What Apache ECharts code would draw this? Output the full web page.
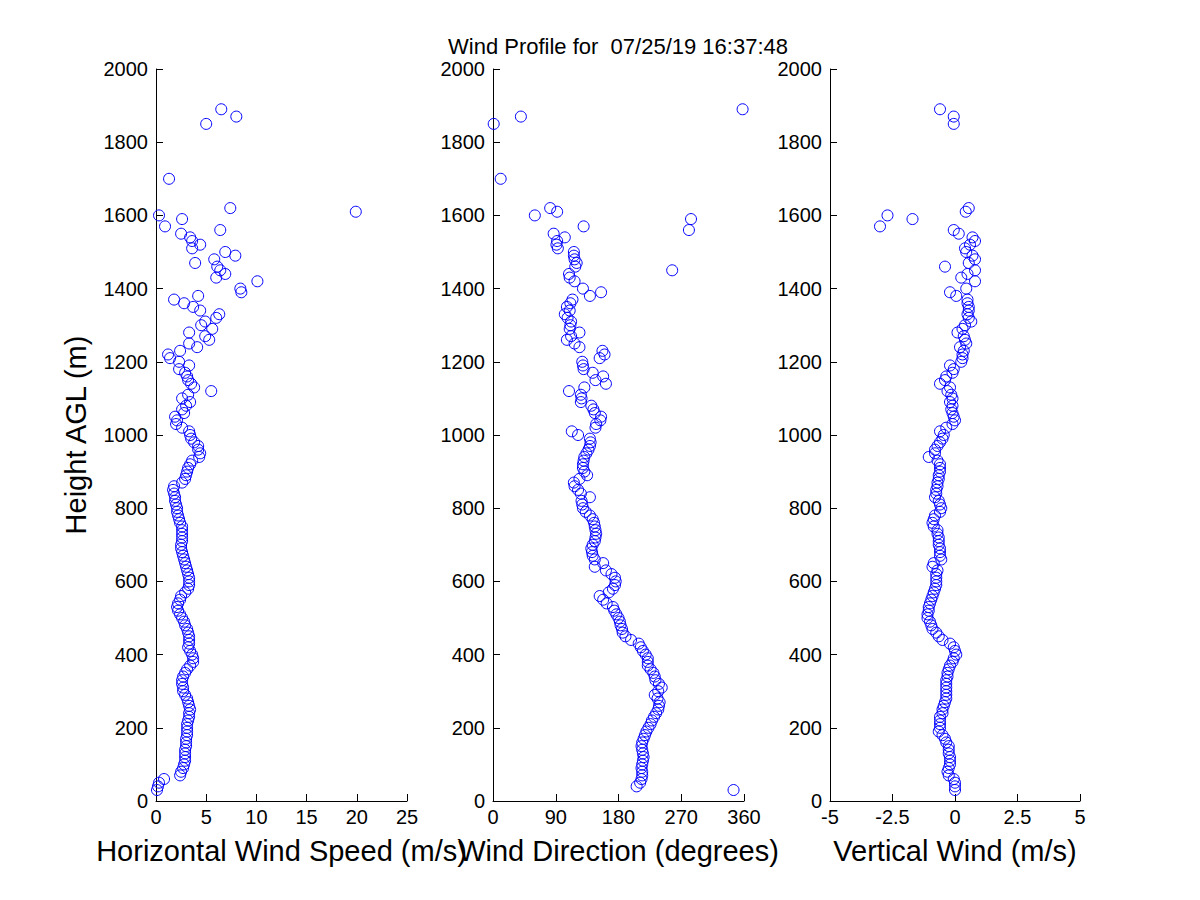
<!DOCTYPE html>
<html>
<head>
<meta charset="utf-8">
<script src="https://cdn.jsdelivr.net/npm/echarts@6/dist/echarts.min.js"></script>
<style>
html,body{margin:0;padding:0;background:#fff;}
#chart{width:1200px;height:900px;}
</style>
</head>
<body>
<div id="chart"></div>
<script>
const titleText = 'Wind Profile for  07/25/19 16:37:48';

const heights = [
  30,40,50,60,70,80,90,
  100,110,120,130,140,150,160,170,180,190,
  200,210,220,230,240,250,260,270,280,290,
  300,310,320,330,340,350,360,370,380,390,
  400,410,420,430,440,450,460,470,480,490,
  500,510,520,530,540,550,560,570,580,590,
  600,610,620,630,640,650,660,670,680,690,
  700,710,720,730,740,750,760,770,780,790,
  800,810,820,830,840,850,860,870,880,890,
  900,910,920,930,940,950,960,970,980,990,
  1000,1010,1020,1030,1040,1050,1060,1070,1080,1090,
  1100,1110,1120,1130,1140,1150,1160,1170,1180,1190,
  1200,1210,1220,1230,1240,1250,1260,1270,1280,1290,
  1300,1310,1320,1330,1340,1350,1360,1370,1380,1390,
  1400,1410,1420,1430,1440,1450,1460,1470,1480,1490,
  1500,1510,1520,1530,1540,1550,1560,1570,1580,1590,
  1600,1610,1620,
  1700,1850,1870,1890
];

const speed = [
  0.1,0.2,0.3,0.8,2.4,2.5,2.7,
  2.8,2.9,2.9,2.9,2.9,3.0,3.0,3.0,3.1,3.1,
  3.1,3.1,3.2,3.3,3.3,3.4,3.3,3.2,3.1,2.9,
  2.7,2.7,2.6,2.6,2.7,2.9,3.1,3.4,3.7,3.7,
  3.6,3.4,3.2,3.3,3.3,3.3,3.2,3.1,2.9,2.8,
  2.6,2.4,2.2,2.1,2.2,2.4,2.5,2.9,3.2,3.3,
  3.3,3.3,3.2,3.1,3.0,2.9,2.8,2.7,2.6,2.5,
  2.5,2.6,2.6,2.6,2.6,2.6,2.4,2.3,2.2,2.1,
  2.1,2.0,1.9,1.9,1.8,1.7,1.8,2.6,2.9,3.0,
  3.1,3.2,3.4,3.6,4.3,4.4,4.2,4.2,3.8,3.5,
  3.4,3.3,2.6,2.0,2.1,1.9,2.8,2.6,3.0,3.4,
  2.6,3.2,5.5,3.8,3.5,3.2,3.1,2.9,2.3,3.3,
  2.3,1.4,1.2,2.4,4.1,3.3,5.3,4.9,3.3,5.6,
  4.5,4.9,6.0,6.3,4.4,3.7,2.8,1.8,4.2,8.5,
  8.4,null,10.1,6.0,6.9,6.4,6.1,3.9,5.8,7.9,
  6.9,3.6,4.4,3.6,3.4,2.5,6.4,0.9,null,2.6,
  0.3,19.9,7.4,
  1.3,5.0,8.0,6.5
];

const direction = [
  345,206,211,213,214,214,213,
  214,215,216,215,214,213,214,216,218,220,
  223,226,228,231,234,237,238,239,236,232,
  237,242,238,233,232,230,226,222,222,222,
  219,215,212,209,198,190,186,185,183,182,
  180,177,174,172,163,158,153,166,172,175,
  176,175,170,162,146,158,146,143,142,141,
  143,146,147,148,147,146,145,143,139,133,
  129,128,127,139,126,122,117,116,124,135,
  131,129,129,130,131,134,137,139,140,139,
  122,113,147,148,154,155,146,144,141,126,
  127,126,109,131,162,147,158,143,130,129,
  128,153,160,157,124,117,106,112,124,110,
  111,112,107,103,110,106,111,114,139,155,
  129,null,117,110,109,257,118,120,117,116,
  116,93,91,92,103,87,281,130,null,284,
  60,92,82,
  11,1,40,358
];

const vertical = [
  0.0,0.0,0.0,-0.05,-0.25,-0.3,-0.25,
  -0.2,-0.2,-0.2,-0.25,-0.25,-0.25,-0.35,-0.4,-0.5,-0.65,
  -0.6,-0.6,-0.6,-0.6,-0.5,-0.5,-0.45,-0.4,-0.35,-0.35,
  -0.35,-0.35,-0.35,-0.35,-0.3,-0.3,-0.25,-0.2,-0.1,-0.05,
  0.05,0.0,-0.05,-0.2,-0.5,-0.65,-0.75,-0.9,-0.95,-1.0,
  -1.1,-1.1,-1.05,-1.05,-1.0,-0.95,-0.9,-0.85,-0.8,-0.75,
  -0.75,-0.75,-0.75,-0.7,-0.9,-0.85,-0.55,-0.6,-0.6,-0.6,
  -0.65,-0.65,-0.65,-0.7,-0.7,-0.85,-0.9,-0.85,-0.8,-0.6,
  -0.55,-0.6,-0.65,-0.8,-0.75,-0.75,-0.7,-0.7,-0.65,-0.65,
  -0.6,-0.6,-0.6,-0.7,-1.05,-0.8,-0.8,-0.7,-0.6,-0.5,
  -0.45,-0.6,-0.35,-0.1,0.0,-0.05,-0.1,-0.15,-0.1,-0.2,
  -0.1,-0.15,-0.3,-0.2,-0.6,-0.4,-0.35,-0.1,-0.05,-0.2,
  0.25,0.3,0.3,0.35,0.2,0.45,0.4,0.35,0.1,0.3,
  0.4,0.65,0.55,0.5,0.55,0.55,0.5,0.5,0.05,-0.2,
  0.45,null,0.8,0.25,0.5,0.8,-0.4,0.55,0.8,0.7,
  0.45,0.4,0.6,0.8,0.7,0.15,-0.05,-3.0,null,-1.7,
  -2.7,0.43,0.55,
  null,-0.05,-0.05,-0.6
];

const heightTicks = {min: 0, max: 2000, interval: 200};
const speedTicks = {min: 0, max: 25, interval: 5};
const directionTicks = {min: 0, max: 360, interval: 90};
const verticalTicks = {min: -5, max: 5, interval: 2.5};

const xNames = ['Horizontal Wind Speed (m/s)', 'Wind Direction (degrees)', 'Vertical Wind (m/s)'];
const yName = 'Height AGL (m)';

const FONT = 'Liberation Sans, Arial, Helvetica, sans-serif';

function pairs(vals) {
  const out = [];
  for (let i = 0; i < heights.length; i++) {
    if (vals[i] !== null && vals[i] !== undefined) out.push([vals[i], heights[i]]);
  }
  return out;
}

const plainLabel = v => String(v);

const axisCommon = {
  type: 'value',
  axisLine: {show: true, onZero: false, lineStyle: {color: '#000', width: 1}},
  axisTick: {show: true, inside: true, length: 7, lineStyle: {color: '#000', width: 1}},
  splitLine: {show: false},
  axisLabel: {color: '#000', fontSize: 20, fontFamily: FONT, formatter: plainLabel}
};

const xRanges = [speedTicks, directionTicks, verticalTicks];
const lefts = [156, 493, 830];
const widths = [251, 251, 250];

const grids = lefts.map((l, i) => ({left: l, top: 69, width: widths[i], height: 732}));

const xAxes = xRanges.map((r, i) => Object.assign({}, axisCommon, {
  gridIndex: i,
  min: r.min, max: r.max, interval: r.interval,
  axisLabel: Object.assign({}, axisCommon.axisLabel, {margin: 6}),
  name: xNames[i],
  nameLocation: 'middle',
  nameGap: 35,
  nameTextStyle: {color: '#000', fontSize: 29, fontFamily: FONT}
}));

const yAxes = [0, 1, 2].map(i => Object.assign({}, axisCommon, {
  gridIndex: i,
  min: heightTicks.min, max: heightTicks.max, interval: heightTicks.interval,
  axisLabel: Object.assign({}, axisCommon.axisLabel, {margin: 8}),
  name: i === 0 ? yName : '',
  nameLocation: 'middle',
  nameRotate: 90,
  nameGap: 66,
  nameTextStyle: {color: '#000', fontSize: 29, fontFamily: FONT}
}));

const seriesVals = [speed, direction, vertical];
const series = seriesVals.map((v, i) => ({
  type: 'scatter',
  xAxisIndex: i,
  yAxisIndex: i,
  data: pairs(v),
  symbol: 'circle',
  symbolSize: 11,
  silent: true,
  itemStyle: {color: 'rgba(0,0,0,0)', borderColor: '#0000ff', borderWidth: 1, opacity: 1},
  emphasis: {disabled: true}
}));

const chart = echarts.init(document.getElementById('chart'), null, {renderer: 'svg'});
chart.setOption({
  animation: false,
  backgroundColor: '#fff',
  title: {
    text: titleText,
    left: 448,
    top: 35,
    padding: 0,
    textStyle: {color: '#000', fontSize: 22, fontWeight: 'normal', fontFamily: FONT}
  },
  grid: grids,
  xAxis: xAxes,
  yAxis: yAxes,
  series: series
});
</script>
</body>
</html>
